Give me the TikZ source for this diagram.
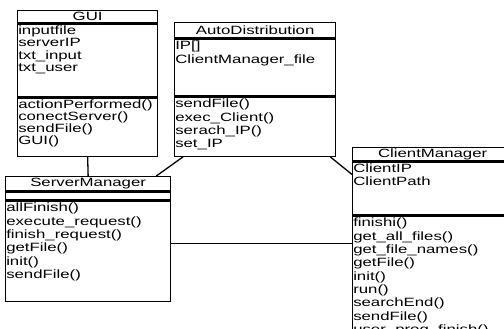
\documentclass[tikz,border=0pt]{standalone}
\usepackage{fontspec}
\newfontfamily\umlfont[FakeStretch=1.4]{Liberation Sans}
\begin{document}
\begin{tikzpicture}[x=1pt, y=-1pt, line width=1.3pt,
    head/.style={draw, rectangle, anchor=north west, inner sep=0pt, font=\umlfont\fontsize{12}{12}\selectfont},
    part/.style={draw, rectangle, anchor=north west, inner sep=0pt},
    members/.style={anchor=north west, align=left, inner xsep=0.6pt, inner ysep=2pt, font=\umlfont\fontsize{12}{#1}\selectfont}]
    \useasboundingbox (0,0) rectangle (504,329);

    % GUI
    \node[head, minimum width=140pt, minimum height=12pt] (gui) at (17,10) {GUI};
    \node[part, minimum width=140pt, minimum height=73pt] (gui-a) at (gui.south west) {};
    \node[part, minimum width=140pt, minimum height=58pt] (gui-m) at (gui-a.south west) {};
    \node[members=12.2pt] at (gui-a.north west) {inputfile\\serverIP\\txt\_input\\txt\_user};
    \node[members=12pt] at (gui-m.north west) {actionPerformed()\\conectServer()\\sendFile()\\GUI()};

    % AutoDistribution
    \node[head, minimum width=161pt, minimum height=15pt] (auto) at (174,22) {AutoDistribution};
    \node[part, minimum width=161pt, minimum height=57pt] (auto-a) at (auto.south west) {};
    \node[part, minimum width=161pt, minimum height=59pt] (auto-m) at (auto-a.south west) {};
    \node[members=14pt] at (auto-a.north west) {IP[]\\ClientManager\_file};
    \node[members=13.3pt] at (auto-m.north west) {sendFile()\\exec\_Client()\\serach\_IP()\\set\_IP};

    % ServerManager
    \node[head, minimum width=165pt, minimum height=14pt] (srv) at (5,176) {ServerManager};
    \node[part, minimum width=165pt, minimum height=8pt] (srv-a) at (srv.south west) {};
    \node[part, minimum width=165pt, minimum height=100pt] (srv-m) at (srv-a.south west) {};
    \node[members=13.3pt] at (srv-m.north west) {allFinish()\\execute\_request()\\finish\_request()\\getFile()\\init()\\sendFile()};

    % ClientManager
    \node[head, minimum width=160pt, minimum height=13pt] (cli) at (352,147) {ClientManager};
    \node[part, minimum width=160pt, minimum height=53pt] (cli-a) at (cli.south west) {};
    \node[part, minimum width=160pt, minimum height=140pt] (cli-m) at (cli-a.south west) {};
    \node[members=13.3pt] at (cli-a.north west) {ClientIP\\ClientPath};
    \node[members=13.3pt] at (cli-m.north west) {finishi()\\get\_all\_files()\\get\_file\_names()\\getFile()\\init()\\run()\\searchEnd()\\sendFile()\\user\_prog\_finish()};

    % associations
    \draw (gui-m.south) -- (srv.north);
    \draw ([xshift=9pt]auto-m.south west) -- ([xshift=-15pt]srv.north east);
    \draw ([xshift=-6pt]auto-m.south east) -- ([yshift=14pt]cli-a.west);
    \draw ([yshift=8pt]srv-m.east) -- ([yshift=8pt]srv-m.east -| cli-m.west);
\end{tikzpicture}
\end{document}
